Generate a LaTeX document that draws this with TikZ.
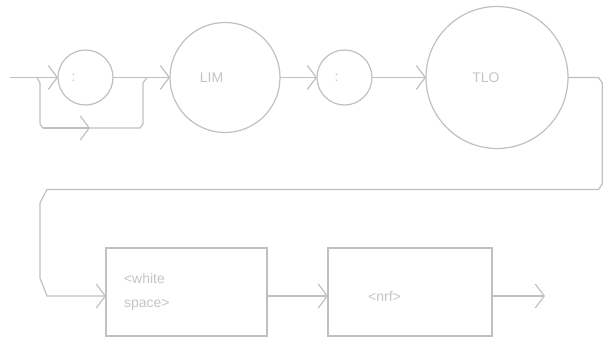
\documentclass[tikz,border=0pt]{standalone}
\usepackage{fontspec}
\setmainfont{Liberation Sans}
\usetikzlibrary{arrows.meta}
\definecolor{linegray}{HTML}{C0C0C0}
\definecolor{textgray}{HTML}{C4C4C4}
\begin{document}
\begin{tikzpicture}[x=1pt,y=-1pt,
  line width=1.2pt,
  every node/.style={outer sep=0pt,inner sep=0pt},
  conn/.style={draw=linegray,line width=1.2pt},
  arr/.style={conn,-{Straight Barb[length=9pt,width=24pt]}},
  bubble/.style={circle,draw=linegray,line width=1.2pt},
  boxn/.style={rectangle,draw=linegray,line width=1.2pt},
  lbl/.style={text=textgray,font=\fontsize{14}{16}\selectfont}
]
\useasboundingbox (0,0) rectangle (603,337);
% nodes
\node[bubble,minimum size=55pt,label={[lbl,xshift=-12pt]center::}] (c1) at (85.5,77.5) {};
\node[bubble,minimum size=110pt,label={[lbl,xshift=-13.5pt]center:LIM}] (lim) at (225,77.5) {};
\node[bubble,minimum size=55pt,label={[lbl,xshift=-8pt]center::}] (c2) at (344.5,77.5) {};
\node[bubble,minimum size=142pt,label={[lbl,xshift=-11pt]center:TLO}] (tlo) at (497,77.5) {};
\node[boxn,minimum width=161pt,minimum height=88pt] (b1) at (186.5,292) {};
\node[lbl,anchor=west,align=left] (b1t) at (124,291.5) {{<}white\\[8pt]space{>}};
\node[boxn,minimum width=164pt,minimum height=88pt] (b2) at (410,292) {};
\node[lbl] (b2t) at (384.5,296) {{<}nrf{>}};
% coordinates
\coordinate (in) at (10,77.5);
\coordinate (bs) at (37,77.5);
\coordinate (be) at (147,77.5);
\coordinate (barr) at (90,128);
\coordinate (out) at (545,296);
% main line
\draw[arr] (in) -- (c1.west);
\draw[arr] (c1.east) -- (lim.west);
\draw[arr] (lim.east) -- (c2.west);
\draw[arr] (c2.east) -- (tlo.west);
% bypass
\draw[conn] (bs) -- (40,83) -- (40,124) -- (43,128) -- (barr) -- (140,128) -- (143,124) -- (143,83) -- (be);
\draw[arr] (43,128) -- (barr);
% wrap
\draw[arr] (tlo.east) -- (598.5,77.5) -- (602.3,83) -- (602.3,184) -- (598.5,189.5) -- (47,189.5) -- (40,203) -- (40,278) -- (47,296) -- (b1.west |- 0,296);
\draw[arr] (b1.east |- 0,296) -- (b2.west |- 0,296);
\draw[arr] (b2.east |- 0,296) -- (out);
\end{tikzpicture}
\end{document}
